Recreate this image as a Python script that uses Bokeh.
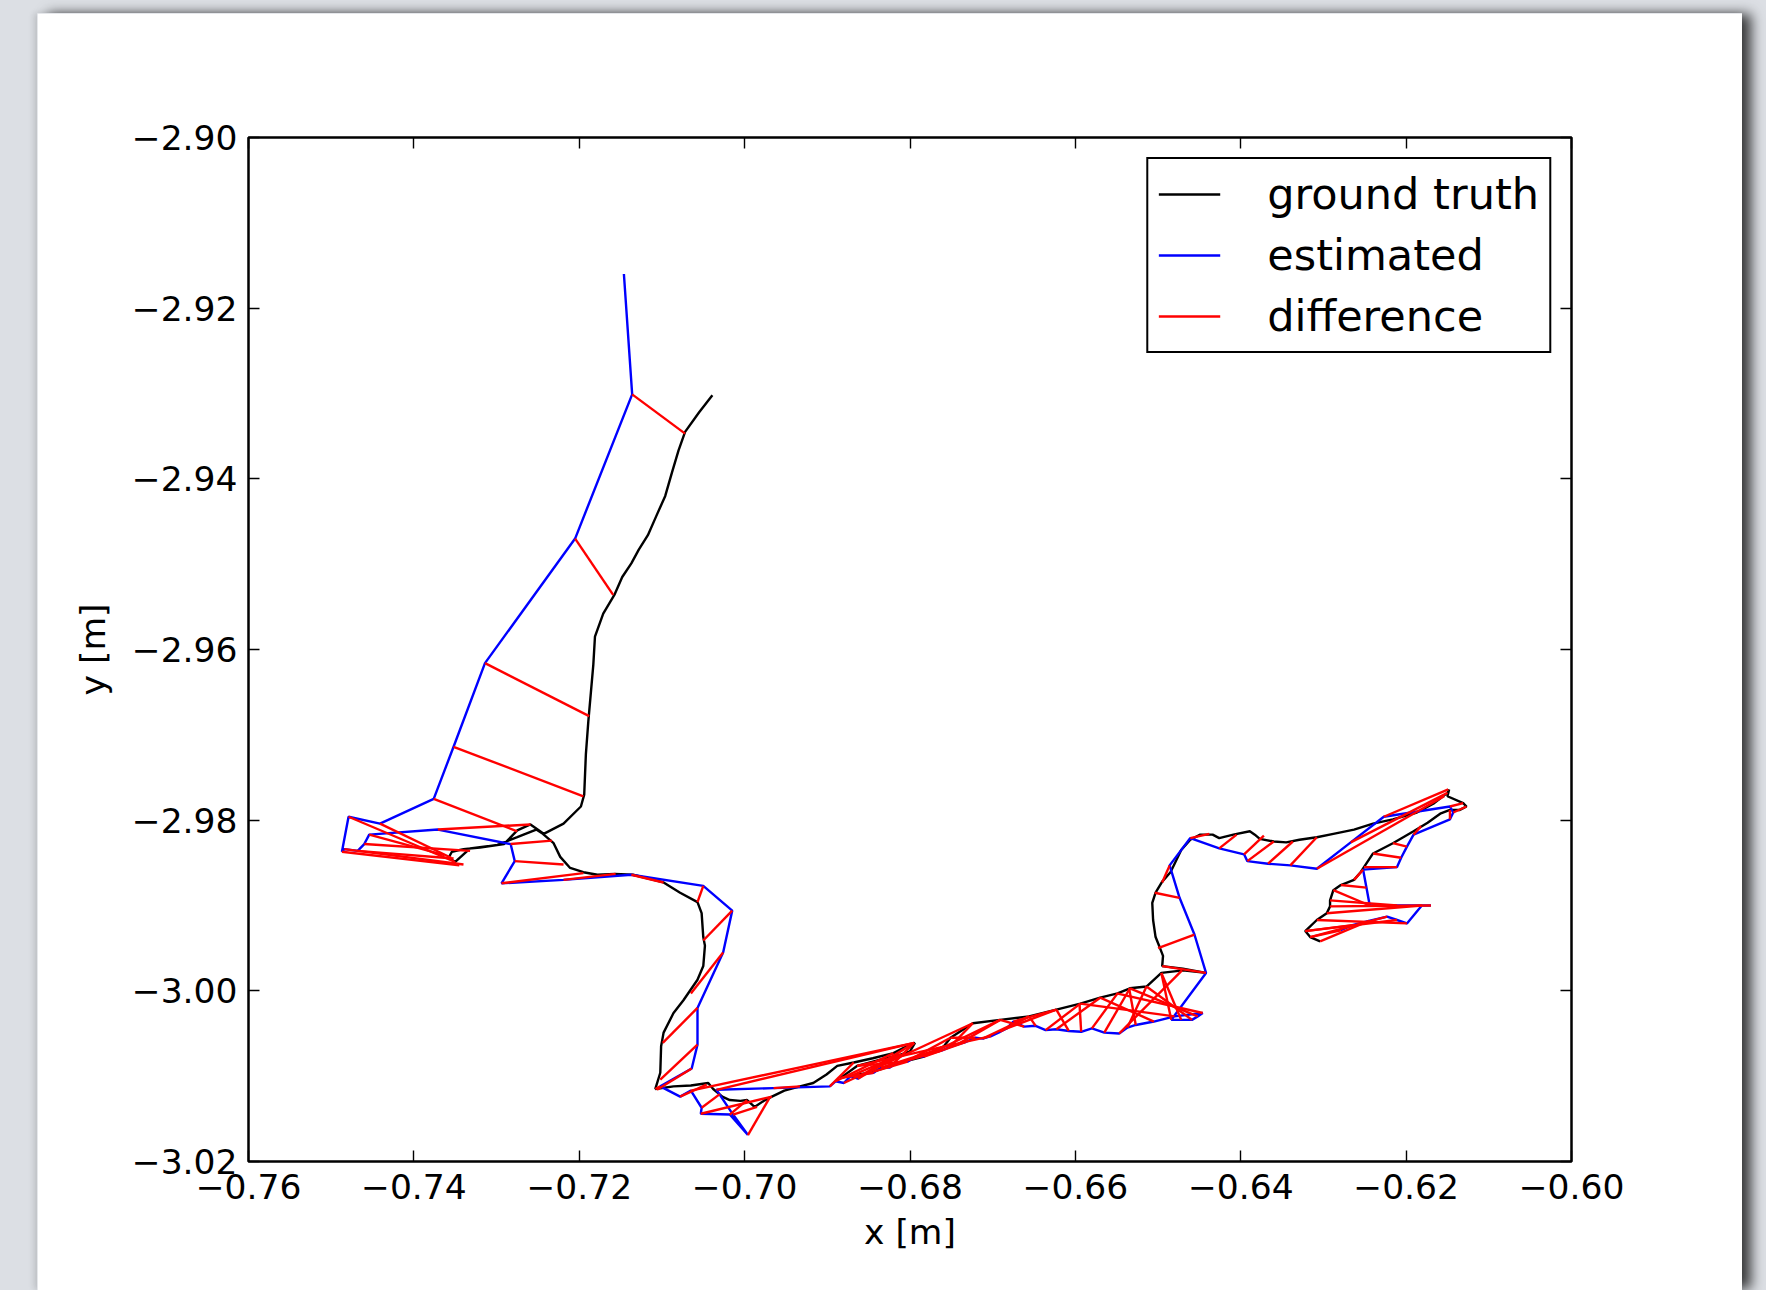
from bokeh.plotting import figure
from bokeh.models import LinearAxis, FixedTicker, CustomJSTickFormatter, Range1d
from bokeh.embed import file_html
from bokeh.resources import INLINE

# ---- axis ticks ----
x_ticks = [-0.76, -0.74, -0.72, -0.70, -0.68, -0.66, -0.64, -0.62, -0.60]
y_ticks = [-2.90, -2.92, -2.94, -2.96, -2.98, -3.00, -3.02]
x_label = "x [m]"
y_label = "y [m]"

# ---- ground truth trajectory ----
gt_x = [-0.7039, -0.7055, -0.7072, -0.7080, -0.7088, -0.7096, -0.7107, -0.7117, -0.7128, -0.7137,
        -0.7148, -0.7157, -0.7171, -0.7181, -0.7183, -0.7186, -0.7189, -0.7192, -0.7194, -0.7198,
        -0.7219, -0.7243, -0.7259, -0.7275, -0.7291, -0.7320, -0.7340, -0.7354, -0.7358, -0.7350,
        -0.7332, -0.7299, -0.7275, -0.7252, -0.7244, -0.7231, -0.7223, -0.7211, -0.7195, -0.7178,
        -0.7157, -0.7135, -0.7098, -0.7078, -0.7057, -0.7052, -0.7050, -0.7048, -0.7050, -0.7057,
        -0.7074, -0.7086, -0.7098, -0.7101, -0.7102, -0.7108, -0.7086, -0.7065, -0.7044, -0.7038,
        -0.7027, -0.7018, -0.7005, -0.6997, -0.6988, -0.6977, -0.6967, -0.6952, -0.6933, -0.6917,
        -0.6901, -0.6888, -0.6868, -0.6845, -0.6820, -0.6804, -0.6794, -0.6800, -0.6812, -0.6837,
        -0.6864, -0.6884, -0.6845, -0.6812, -0.6783, -0.6759, -0.6751, -0.6724, -0.6691, -0.6656,
        -0.6623, -0.6594, -0.6570, -0.6549, -0.6534, -0.6514, -0.6496, -0.6470, -0.6442, -0.6470,
        -0.6495, -0.6494, -0.6498, -0.6503, -0.6506, -0.6507, -0.6503, -0.6495, -0.6485, -0.6480,
        -0.6472, -0.6461, -0.6449, -0.6434, -0.6426, -0.6409, -0.6389, -0.6383, -0.6377, -0.6360,
        -0.6345, -0.6329, -0.6308, -0.6288, -0.6263, -0.6240, -0.6216, -0.6187, -0.6166, -0.6150,
        -0.6148, -0.6150, -0.6131, -0.6127, -0.6135, -0.6147, -0.6158, -0.6174, -0.6191, -0.6216,
        -0.6240, -0.6251, -0.6255, -0.6263, -0.6279, -0.6288, -0.6292, -0.6292, -0.6296, -0.6308,
        -0.6322, -0.6316, -0.6304]
gt_y = [-2.9302, -2.9322, -2.9345, -2.9367, -2.9393, -2.9420, -2.9444, -2.9466, -2.9483, -2.9499,
        -2.9515, -2.9535, -2.9558, -2.9585, -2.9618, -2.9651, -2.9684, -2.9723, -2.9770, -2.9784,
        -2.9804, -2.9816, -2.9805, -2.9812, -2.9828, -2.9832, -2.9834, -2.9837, -2.9844, -2.9849,
        -2.9833, -2.9829, -2.9820, -2.9811, -2.9816, -2.9827, -2.9843, -2.9856, -2.9861, -2.9864,
        -2.9863, -2.9864, -2.9873, -2.9885, -2.9896, -2.9909, -2.9937, -2.9947, -2.9971, -2.9987,
        -3.0011, -3.0026, -3.0049, -3.0065, -3.0096, -3.0115, -3.0112, -3.0111, -3.0108, -3.0115,
        -3.0124, -3.0128, -3.0129, -3.0128, -3.0136, -3.0129, -3.0124, -3.0117, -3.0112, -3.0108,
        -3.0098, -3.0088, -3.0084, -3.0079, -3.0073, -3.0065, -3.0061, -3.0071, -3.0075, -3.0081,
        -3.0088, -3.0102, -3.0095, -3.0084, -3.0077, -3.0065, -3.0055, -3.0038, -3.0034, -3.0030,
        -3.0022, -3.0015, -3.0008, -3.0003, -2.9997, -2.9995, -2.9979, -2.9976, -2.9979, -2.9974,
        -2.9971, -2.9959, -2.9949, -2.9937, -2.9917, -2.9897, -2.9885, -2.9872, -2.9861, -2.9851,
        -2.9835, -2.9823, -2.9817, -2.9817, -2.9821, -2.9817, -2.9813, -2.9817, -2.9822, -2.9825,
        -2.9826, -2.9823, -2.9820, -2.9816, -2.9811, -2.9804, -2.9799, -2.9791, -2.9780, -2.9768,
        -2.9764, -2.9772, -2.9780, -2.9784, -2.9788, -2.9788, -2.9792, -2.9803, -2.9813, -2.9827,
        -2.9839, -2.9855, -2.9861, -2.9870, -2.9876, -2.9882, -2.9894, -2.9901, -2.9909, -2.9917,
        -2.9930, -2.9937, -2.9942]

# ---- estimated trajectory (first pose has no ground-truth match) ----
est_x = [-0.7146, -0.7136, -0.7205, -0.7314, -0.7352, -0.7376, -0.7441, -0.7479, -0.7487, -0.7484,
         -0.7468, -0.7460, -0.7454, -0.7371, -0.7283, -0.7278, -0.7294, -0.7219, -0.7137, -0.7050,
         -0.7015, -0.7026, -0.7057, -0.7057, -0.7064, -0.7102, -0.7078, -0.7065, -0.7052, -0.7053,
         -0.7018, -0.6996, -0.7014, -0.7034, -0.6965,
         -0.6897, -0.6890, -0.6880, -0.6872, -0.6863, -0.6855, -0.6844, -0.6835, -0.6825, -0.6815,
         -0.6803, -0.6795, -0.6784, -0.6772, -0.6762, -0.6752, -0.6743, -0.6733, -0.6721, -0.6712,
         -0.6702, -0.6691, -0.6683, -0.6675, -0.6662, -0.6648, -0.6636, -0.6623, -0.6608, -0.6593,
         -0.6580, -0.6565, -0.6547, -0.6537, -0.6527, -0.6505, -0.6480, -0.6446, -0.6452, -0.6459,
         -0.6472, -0.6484,
         -0.6442, -0.6456, -0.6474, -0.6486, -0.6461, -0.6426, -0.6396, -0.6392, -0.6367, -0.6340,
         -0.6308, -0.6267, -0.6227, -0.6147, -0.6143, -0.6147, -0.6191, -0.6199, -0.6206, -0.6211,
         -0.6252, -0.6248, -0.6244, -0.6211, -0.6170, -0.6181, -0.6199, -0.6211, -0.6223, -0.6245,
         -0.6265, -0.6279]
est_y = [-2.9160, -2.9301, -2.9470, -2.9616, -2.9714, -2.9775, -2.9804, -2.9796, -2.9837, -2.9834,
         -2.9836, -2.9828, -2.9817, -2.9811, -2.9828, -2.9848, -2.9874, -2.9870, -2.9864, -2.9877,
         -2.9906, -2.9955, -3.0020, -3.0063, -3.0091, -3.0112, -3.0124, -3.0117, -3.0137, -3.0144,
         -3.0145, -3.0169, -3.0145, -3.0116, -3.0114,
         -3.0112, -3.0106, -3.0108, -3.0100, -3.0103, -3.0097, -3.0096, -3.0090, -3.0090, -3.0084,
         -3.0083, -3.0078, -3.0077, -3.0072, -3.0070, -3.0066, -3.0063, -3.0060, -3.0055, -3.0056,
         -3.0053, -3.0048, -3.0044, -3.0036, -3.0042, -3.0041, -3.0046, -3.0045, -3.0047, -3.0048,
         -3.0044, -3.0049, -3.0050, -3.0043, -3.0040, -3.0036, -3.0030, -3.0026, -3.0030, -3.0034,
         -3.0034, -3.0034,
         -2.9979, -2.9934, -2.9891, -2.9853, -2.9821, -2.9833, -2.9840, -2.9848, -2.9851, -2.9853,
         -2.9857, -2.9826, -2.9796, -2.9784, -2.9791, -2.9799, -2.9817, -2.9831, -2.9844, -2.9855,
         -2.9858, -2.9879, -2.9900, -2.9900, -2.9900, -2.9900, -2.9921, -2.9917, -2.9913, -2.9918,
         -2.9923, -2.9929]

# ---- matched ground-truth poses for estimated poses 1..N ----
match_x = [-0.7072, -0.7159, -0.7188, -0.7195, -0.7275, -0.7355, -0.7350, -0.7345, -0.7340, -0.7352,
           -0.7332, -0.7363, -0.7259, -0.7233, -0.7219, -0.7195, -0.7156, -0.7098, -0.7057, -0.7050,
           -0.7065, -0.7099, -0.7102, -0.7106, -0.7108, -0.7046, -0.6795, -0.7030, -0.6967, -0.6997,
           -0.6969, -0.6985, -0.6795, -0.6933,
           -0.6868, -0.6820, -0.6724, -0.6812, -0.6811, -0.6795, -0.6884, -0.6764, -0.6795, -0.6864,
           -0.6845, -0.6751, -0.6759, -0.6691, -0.6812, -0.6724, -0.6691, -0.6783, -0.6751, -0.6656,
           -0.6864, -0.6656, -0.6623, -0.6623, -0.6691, -0.6656, -0.6594, -0.6570, -0.6623, -0.6595,
           -0.6549, -0.6534, -0.6471, -0.6514, -0.6535, -0.6570, -0.6594, -0.6550, -0.6534, -0.6514,
           -0.6496, -0.6496,
           -0.6495, -0.6500, -0.6504, -0.6495, -0.6438, -0.6405, -0.6372, -0.6360, -0.6337, -0.6308,
           -0.6154, -0.6150, -0.6149, -0.6131, -0.6127, -0.6147, -0.6182, -0.6216, -0.6240, -0.6251,
           -0.6263, -0.6279, -0.6288, -0.6292, -0.6292, -0.6296, -0.6308, -0.6322, -0.6316, -0.6304,
           -0.6322, -0.6316]
match_y = [-2.9347, -2.9536, -2.9678, -2.9772, -2.9813, -2.9844, -2.9849, -2.9853, -2.9852, -2.9845,
           -2.9836, -2.9841, -2.9805, -2.9824, -2.9852, -2.9862, -2.9863, -2.9873, -2.9896, -2.9941,
           -3.0003, -3.0061, -3.0104, -3.0116, -3.0115, -3.0110, -3.0061, -3.0121, -3.0124, -3.0128,
           -3.0124, -3.0136, -3.0061, -3.0112,
           -3.0084, -3.0073, -3.0038, -3.0075, -3.0074, -3.0061, -3.0102, -3.0068, -3.0061, -3.0088,
           -3.0095, -3.0055, -3.0065, -3.0034, -3.0084, -3.0038, -3.0034, -3.0077, -3.0055, -3.0030,
           -3.0088, -3.0030, -3.0022, -3.0022, -3.0034, -3.0030, -3.0015, -3.0008, -3.0022, -3.0015,
           -3.0003, -2.9997, -2.9976, -2.9995, -2.9997, -3.0008, -3.0015, -3.0003, -2.9997, -2.9995,
           -2.9979, -2.9979,
           -2.9971, -2.9950, -2.9885, -2.9873, -2.9816, -2.9817, -2.9818, -2.9825, -2.9825, -2.9820,
           -2.9772, -2.9768, -2.9764, -2.9780, -2.9784, -2.9788, -2.9807, -2.9827, -2.9839, -2.9855,
           -2.9870, -2.9876, -2.9882, -2.9894, -2.9901, -2.9909, -2.9917, -2.9930, -2.9937, -2.9942,
           -2.9930, -2.9937]

assert len(gt_x) == len(gt_y)
assert len(est_x) == len(est_y) == len(match_x) + 1 == len(match_y) + 1

FONT = "DejaVu Sans"
TICK_SIZE = "34.5px"
LW = 2.4

p = figure(width=1705, height=1277, output_backend="svg", toolbar_location=None,
           x_range=Range1d(x_ticks[0], x_ticks[-1]), y_range=Range1d(y_ticks[-1], y_ticks[0]),
           min_border_left=211, min_border_right=171, min_border_top=124, min_border_bottom=129,
           x_axis_label=x_label, y_axis_label=y_label)
p.margin = (13, 0, 0, 37)
p.styles = {"box-shadow": "10px 0px 12px -1px rgba(0,0,0,0.75), -3px 0px 6px rgba(0,0,0,0.12)"}
p.background_fill_color = "white"
p.border_fill_color = "white"
p.grid.visible = False
p.outline_line_color = "black"
p.outline_line_width = 2.5
p.outline_line_alpha = 1.0

fmt = CustomJSTickFormatter(code="return (tick < 0 ? '\u2212' : '') + Math.abs(tick).toFixed(2);")
blank_fmt = CustomJSTickFormatter(code="return '';")

top_axis = LinearAxis()
right_axis = LinearAxis()
p.add_layout(top_axis, "above")
p.add_layout(right_axis, "right")

for ax in p.xaxis:
    ax.ticker = FixedTicker(ticks=x_ticks)
for ax in p.yaxis:
    ax.ticker = FixedTicker(ticks=y_ticks)

for ax in p.axis:
    ax.formatter = fmt
    ax.axis_line_color = None
    ax.major_tick_in = 11
    ax.major_tick_out = 0
    ax.major_tick_line_color = "black"
    ax.major_tick_line_width = 1.4
    ax.minor_tick_line_color = None
    ax.major_label_text_font = FONT
    ax.major_label_text_font_size = TICK_SIZE
    ax.major_label_text_color = "black"
    ax.axis_label_text_font = FONT
    ax.axis_label_text_font_size = TICK_SIZE
    ax.axis_label_text_font_style = "normal"
    ax.axis_label_text_color = "black"

for ax in (top_axis, right_axis):
    ax.formatter = blank_fmt
    ax.major_label_standoff = 0
    ax.axis_label = None

p.below[0].major_label_standoff = 12
p.below[0].axis_label_standoff = 10
p.left[0].major_label_standoff = 11
p.left[0].axis_label_standoff = 16

p.line(gt_x, gt_y, line_color="black", line_width=LW, legend_label="ground truth")
p.line(est_x, est_y, line_color="#0000ff", line_width=LW, legend_label="estimated")
p.segment(x0=est_x[1:], y0=est_y[1:], x1=match_x, y1=match_y,
          line_color="#ff0000", line_width=LW, legend_label="difference")

lg = p.legend[0]
lg.location = "top_right"
lg.margin = 20
lg.padding = 10
lg.spacing = 11
lg.border_line_color = "black"
lg.border_line_width = 2.5
lg.border_line_alpha = 1.0
lg.background_fill_color = "white"
lg.background_fill_alpha = 1.0
lg.label_text_font = FONT
lg.label_text_font_size = "43px"
lg.label_text_color = "black"
lg.glyph_width = 62
lg.glyph_height = 50
lg.label_height = 50
lg.label_standoff = 47

html = file_html(p, INLINE)
html = html.replace("</head>", "<style>html, body { background: #dcdfe4; overflow: hidden; }</style></head>", 1)
open("out.html", "w").write(html)
